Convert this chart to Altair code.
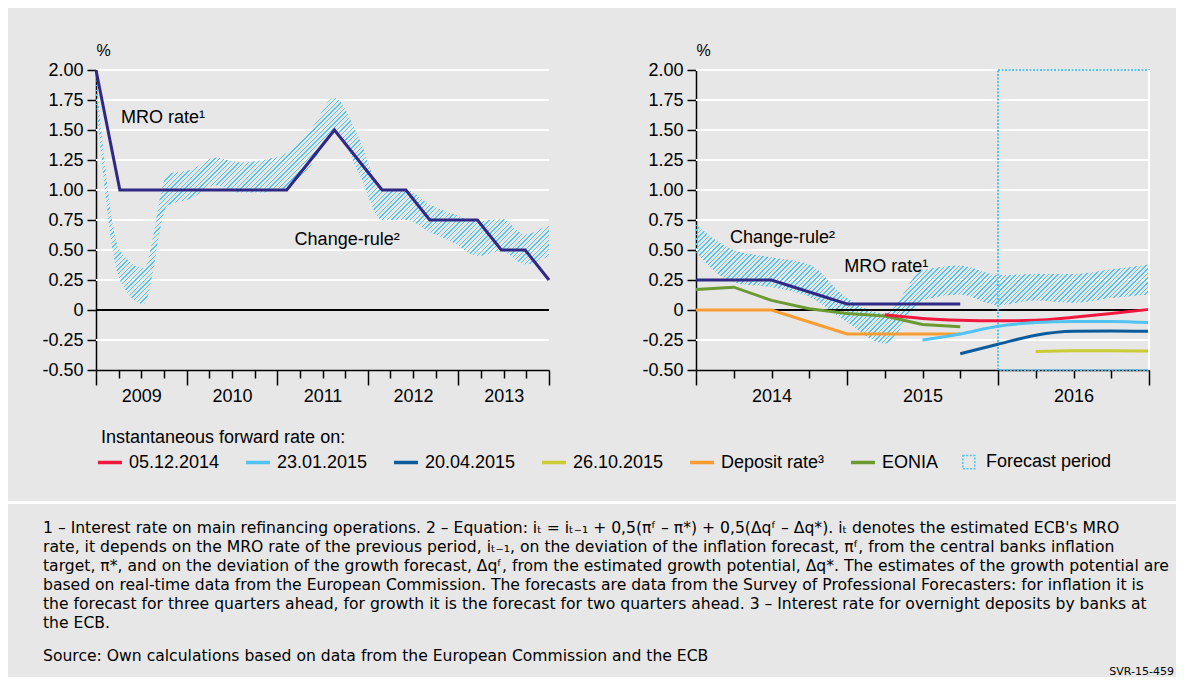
import altair as alt
import pandas as pd
import numpy as np

# ---------------- data ----------------
# Left panel: quarterly values 2009Q1 .. 2013Q4
left_years = [2009, 2010, 2011, 2012, 2013]
left_mro = [2.00, 1.00, 1.00, 1.00, 1.00, 1.00, 1.00, 1.00, 1.00, 1.25,
            1.50, 1.25, 1.00, 1.00, 0.75, 0.75, 0.75, 0.50, 0.50, 0.25]
left_rule_upper = [1.95, 0.50, 0.35, 1.13, 1.17, 1.27, 1.23, 1.25, 1.31, 1.50,
                   1.77, 1.45, 1.00, 1.00, 0.88, 0.80, 0.74, 0.76, 0.63, 0.72]
left_rule_lower = [1.72, 0.25, 0.05, 0.87, 0.93, 1.04, 0.98, 0.98, 1.02, 1.20,
                   1.50, 1.15, 0.75, 0.75, 0.65, 0.56, 0.45, 0.49, 0.38, 0.45]

# Right panel: quarter index 0..12 (2014Q1 .. end of 2016)
right_years = [2014, 2015, 2016]
right_mro = [0.25, 0.25, 0.25, 0.15, 0.05, 0.05, 0.05, 0.05]
eonia = [0.17, 0.19, 0.08, 0.01, -0.03, -0.05, -0.12, -0.14]
deposit = [0.00, 0.00, 0.00, -0.10, -0.20, -0.20, -0.20, -0.20]
fwd_labels = ["05.12.2014", "23.01.2015", "20.04.2015", "26.10.2015"]
fwd_start = [5, 6, 7, 9]
fwd_values = [
    [-0.04, -0.07, -0.085, -0.09, -0.085, -0.06, -0.03, 0.005],
    [-0.25, -0.20, -0.135, -0.105, -0.095, -0.095, -0.105],
    [-0.365, -0.285, -0.21, -0.178, -0.175, -0.177],
    [-0.345, -0.34, -0.34, -0.342],
]
right_rule_upper = [0.71, 0.50, 0.44, 0.38, 0.10, -0.03, 0.33, 0.37, 0.29, 0.30, 0.30, 0.34, 0.38]
right_rule_lower = [0.48, 0.23, 0.19, 0.11, -0.10, -0.28, 0.08, 0.13, 0.04, 0.08, 0.06, 0.10, 0.13]
forecast_start = 8
forecast_end = 12

series_domain = ["05.12.2014", "23.01.2015", "20.04.2015", "26.10.2015",
                 "Deposit rate³", "EONIA", "Forecast period"]
series_colors = ["#f2173e", "#52c3f1", "#0b5c9d", "#cacb35", "#f99d33", "#6b9a33", "#52c3f1"]

y_min, y_max = -0.5, 2.0
y_ticks = [-0.5, -0.25, 0, 0.25, 0.5, 0.75, 1.0, 1.25, 1.5, 1.75, 2.0]

left_notes = pd.DataFrame({"x": [1.05, 8.33], "y": [1.56, 0.54],
                           "t": ["MRO rate¹", "Change-rule²"]})
right_notes = pd.DataFrame({"x": [0.9, 3.93], "y": [0.555, 0.32],
                            "t": ["Change-rule²", "MRO rate¹"]})

footnote_lines = [
    "1 – Interest rate on main refinancing operations.  2 – Equation: iₜ = iₜ₋₁ + 0,5(πᶠ – π*) + 0,5(Δqᶠ – Δq*). iₜ denotes the estimated ECB's MRO",
    "rate, it depends on the MRO rate of the previous period, iₜ₋₁, on the deviation of the inflation forecast, πᶠ, from the central banks inflation",
    "target, π*, and on the deviation of the growth forecast, Δqᶠ, from the estimated growth potential, Δq*. The estimates of the growth potential are",
    "based on real-time data from the European Commission. The forecasts are data from the Survey of Professional Forecasters: for inflation it is",
    "the forecast for three quarters ahead, for growth it is the forecast for two quarters ahead.  3 – Interest rate for overnight deposits by banks at",
    "the ECB.",
]
source_line = "Source: Own calculations based on data from the European Commission and the ECB"
code_line = "SVR-15-459"

# ---------------- styling ----------------
FONT = "Liberation Sans"
NOTE_FONT = "DejaVu Sans"
BG = "#e7e7e7"
PW, PH = 453, 300
LEFT_EXT, TOP_EXT = 88, 62     # room for the y axis and '%' title of the first panel
MRO_COLOR = "#2f2884"
HATCH = "#55c4f0"


def hatch(w, h, period=3.3, line=1.15, color=HATCH):
    k = (w + h) / (w * w + h * h)
    total = (w + h) / np.sqrt(2)
    n = int(total / period) + 1
    stops = []
    clear = "rgba(231,231,231,0)"
    for i in range(n):
        a = min(i * period / total, 1)
        b = min((i * period + line) / total, 1)
        c = min((i + 1) * period / total, 1)
        stops += [{"offset": round(a, 5), "color": color},
                  {"offset": round(b, 5), "color": color},
                  {"offset": round(b, 5), "color": clear},
                  {"offset": round(c, 5), "color": clear}]
    return {"gradient": "linear", "x1": 0, "y1": 0,
            "x2": round(w * k, 5), "y2": round(h * k, 5), "stops": stops}


y_scale = alt.Scale(domain=[y_min, y_max], nice=False, zero=False)
y_axis = alt.Axis(
    values=y_ticks, tickCount=50,
    labelExpr="datum.value == 0 ? '0' : replace(format(datum.value, '.2f'), '\u2212', '-')",
    title="%", titleAngle=0, titleX=0, titleY=-15, titleAlign="left",
    titleBaseline="alphabetic", titleFontSize=16, titleFontWeight="normal", titleColor="black",
    grid=False, labelOverlap=False, labelBound=False, labelFlush=False,
    domainColor="black", domainWidth=1.5, tickColor="black", tickWidth=1.5,
    tickSize=9, labelPadding=4, labelFontSize=18, labelColor="black",
)


def x_axis(n_ticks, step, first_year):
    idx = f"round(datum.value/{step})"
    return alt.Axis(
        values=[i * step for i in range(n_ticks)], tickCount=100, title=None, grid=False,
        domainColor="black", domainWidth=1.5, tickColor="black", tickWidth=1.5,
        tickSize={"expr": f"{idx} % 4 == 0 ? 15 : 8"},
        labelExpr=f"{idx} % 4 == 2 ? '' + ({first_year} + floor({idx}/4)) : ''",
        labelPadding=9, labelFontSize=18, labelColor="black",
        labelOverlap=False, labelFlush=False, labelBound=False,
    )


grid_df = pd.DataFrame({"g": [float(v) for v in y_ticks if v > y_min]})
one = pd.DataFrame({"k": [0]})


def grid_layer():
    return alt.Chart(grid_df).mark_rule(color="white", strokeWidth=2).encode(
        y=alt.Y("g:Q", scale=y_scale, axis=y_axis))


def spacer(x0, y0, x1, y1):
    # invisible layout helper fixing the panel's outer bounds
    return alt.Chart(one).mark_rule(opacity=0, strokeWidth=0).encode(
        x=alt.value(x0), y=alt.value(y0), x2=alt.value(x1), y2=alt.value(y1))


# ---------------- left panel ----------------
nL = len(left_mro)
stepL = (nL - 1) / (4 * len(left_years))
left_df = pd.DataFrame({"q": list(range(nL)), "mro": left_mro,
                        "up": left_rule_upper, "lo": left_rule_lower})
xL = alt.X("q:Q", scale=alt.Scale(domain=[0, nL - 1], nice=False, zero=False),
           axis=x_axis(4 * len(left_years) + 1, stepL, left_years[0]))
hL = (max(left_rule_upper) - min(left_rule_lower)) / (y_max - y_min) * PH

left_band = alt.Chart(left_df).mark_area(color=hatch(PW, hL), interpolate="monotone").encode(
    x=xL, y="up:Q", y2="lo:Q")
left_zero = alt.Chart(left_df).mark_rule(color="black", strokeWidth=1.5).encode(y=alt.datum(0))
left_line = alt.Chart(left_df).mark_line(color=MRO_COLOR, strokeWidth=3).encode(x="q:Q", y="mro:Q")
left_text = alt.Chart(left_notes).mark_text(align="left", baseline="alphabetic", fontSize=18,
                                            color="black").encode(x="x:Q", y="y:Q", text="t:N")
left = alt.layer(grid_layer(), left_band, left_zero, left_line, left_text,
                 spacer(-LEFT_EXT, -TOP_EXT, PW + 7, PH + 60)).properties(width=PW, height=PH)

# ---------------- right panel ----------------
nR = len(right_rule_upper)
rows = []
for name, vals in (("Deposit rate³", deposit), ("EONIA", eonia)):
    rows += [{"s": name, "q": i, "v": v} for i, v in enumerate(vals)]
lin_df = pd.DataFrame(rows)
rows = []
for name, st, vals in zip(fwd_labels, fwd_start, fwd_values):
    rows += [{"s": name, "q": st + i, "v": v} for i, v in enumerate(vals)]
fwd_df = pd.DataFrame(rows)
band_df = pd.DataFrame({"q": list(range(nR)), "up": right_rule_upper, "lo": right_rule_lower})
mro_df = pd.DataFrame({"q": list(range(len(right_mro))), "v": right_mro})
fc_df = pd.DataFrame({"s": ["Forecast period"], "a": [forecast_start], "b": [forecast_end],
                      "y0": [y_min], "y1": [y_max]})

xR = alt.X("q:Q", scale=alt.Scale(domain=[0, nR - 1], nice=False, zero=False),
           axis=x_axis(nR, 1, right_years[0]))
hR = (max(right_rule_upper) - min(right_rule_lower)) / (y_max - y_min) * PH

legend = alt.Legend(
    orient="none", legendX=5, legendY=359, direction="horizontal",
    title="Instantaneous forward rate on:", titleFontSize=18, titleFontWeight="normal",
    titleColor="black", titleFont=FONT, titlePadding=6, titleLimit=800,
    labelFontSize=18, labelColor="black", labelFont=FONT, labelOffset=10, labelLimit=300,
    columnPadding=19, symbolSize=576, symbolFillColor="transparent",
    symbolType={"expr": "datum.value == 'Forecast period' ? 'M-0.35,-0.55H0.65V0.55H-0.35Z' : 'stroke'"},
    symbolDash={"expr": "datum.value == 'Forecast period' ? [2, 1.5] : [1, 0]"},
    symbolStrokeWidth={"expr": "datum.value == 'Forecast period' ? 1.5 : 3.5"},
)
color = alt.Color("s:N", scale=alt.Scale(domain=series_domain, range=series_colors), legend=legend)

right_band = alt.Chart(band_df).mark_area(color=hatch(PW, hR), interpolate="monotone").encode(
    x=xR, y="up:Q", y2="lo:Q")
right_zero = alt.Chart(band_df).mark_rule(color="black", strokeWidth=1.5).encode(y=alt.datum(0))
right_fc = alt.Chart(fc_df).mark_rect(filled=False, strokeDash=[2, 1.5], strokeWidth=2).encode(
    x="a:Q", x2="b:Q", y="y0:Q", y2="y1:Q", color=color)
right_lin = alt.Chart(lin_df).mark_line(strokeWidth=3).encode(x="q:Q", y="v:Q", color=color)
right_fwd = alt.Chart(fwd_df).mark_line(strokeWidth=3, interpolate="monotone").encode(
    x="q:Q", y="v:Q", color=color)
right_mro_line = alt.Chart(mro_df).mark_line(color=MRO_COLOR, strokeWidth=3).encode(x="q:Q", y="v:Q")
right_edge = alt.Chart(fc_df).mark_rule(color="white", strokeWidth=2).encode(
    x="b:Q", y="y0:Q", y2="y1:Q")
right_text = alt.Chart(right_notes).mark_text(align="left", baseline="alphabetic", fontSize=18,
                                              color="black").encode(x="x:Q", y="y:Q", text="t:N")
right = alt.layer(grid_layer(), right_band, right_zero, right_fc, right_lin, right_fwd,
                  right_mro_line, right_edge, right_text,
                  spacer(-100, -TOP_EXT, 0, PH + 60)).properties(width=PW, height=PH)

# ---------------- footnote panel ----------------
TOTAL_W = 1168
FW, FH = TOTAL_W - LEFT_EXT, 172
strip = alt.Chart(one).mark_rect(color="white", clip=False).encode(
    x=alt.value(-LEFT_EXT), x2=alt.value(FW), y=alt.value(-3), y2=alt.value(0))
notes = alt.Chart(one).mark_text(text=footnote_lines, align="left", baseline="alphabetic",
                                 font=NOTE_FONT, fontSize=15.6, lineHeight=19, color="black").encode(
    x=alt.value(35 - LEFT_EXT), y=alt.value(29))
source = alt.Chart(one).mark_text(text=source_line, align="left", baseline="alphabetic",
                                  font=NOTE_FONT, fontSize=15.6, color="black").encode(
    x=alt.value(35 - LEFT_EXT), y=alt.value(157))
code = alt.Chart(one).mark_text(text=code_line, align="right", baseline="alphabetic",
                                font=NOTE_FONT, fontSize=11, color="black").encode(
    x=alt.value(FW - 2), y=alt.value(171))
foot = alt.layer(strip, notes, source, code).properties(width=FW, height=FH)

chart = alt.vconcat(
    alt.hconcat(left, right, spacing=40),
    foot, spacing=71,
).properties(
    padding=0,
    background=BG,
).configure(font=FONT).configure_view(stroke=None)

chart.save("out.html", embed_options={"renderer": "svg", "actions": False})
